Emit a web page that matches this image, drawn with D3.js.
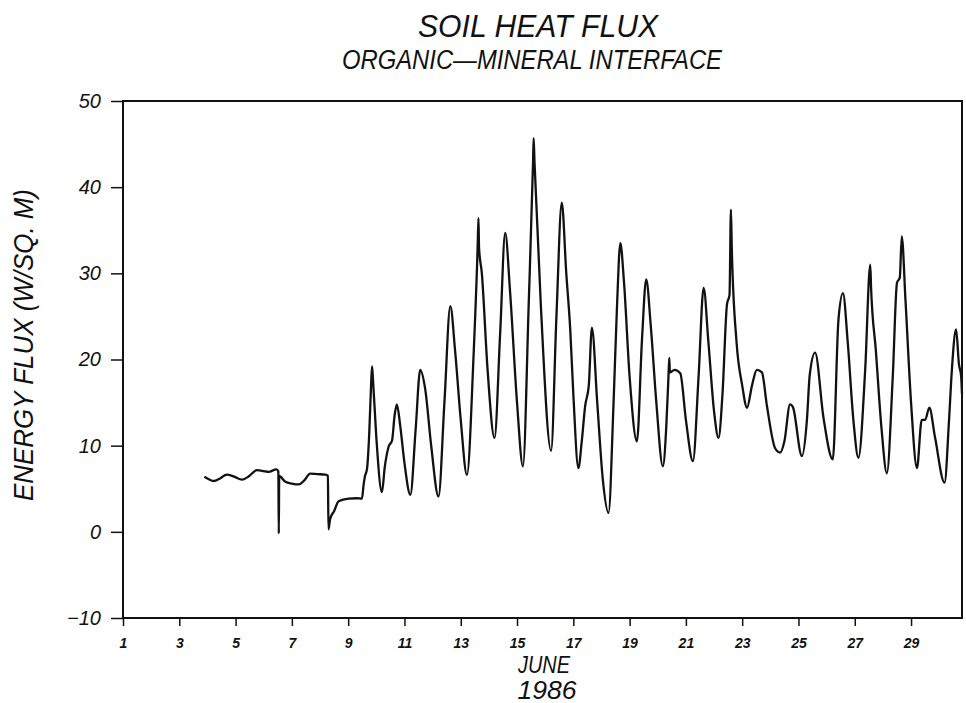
<!DOCTYPE html>
<html>
<head>
<meta charset="utf-8">
<script src="https://cdn.jsdelivr.net/npm/d3@7"></script>
<style>
  body { margin: 0; background: #fff; }
  text { font-family: 'Liberation Sans', 'DejaVu Sans', sans-serif; fill: #111; }
</style>
</head>
<body>
<div id="wrapper"></div>
<script>
// day of June 1986 (fractional) and flux in W/sq. m
const fluxDays = [
    3.89, 4.05, 4.22, 4.45, 4.69, 4.95, 5.23, 5.45, 5.76, 6.0, 6.17, 6.45, 6.52, 6.535, 6.55,
    6.77, 7.0, 7.24, 7.45, 7.65, 7.9, 8.19, 8.28, 8.30, 8.36, 8.50, 8.66, 9.02, 9.30, 9.49,
    9.55, 9.60, 9.67, 9.75, 9.82, 9.85, 9.88, 10.0, 10.20, 10.30, 10.44, 10.56, 10.65, 10.73,
    10.85, 11.0, 11.21, 11.40, 11.56, 11.74, 11.95, 12.21, 12.42, 12.63, 12.80, 13.0, 13.22,
    13.45, 13.60, 13.63, 13.65, 13.75, 13.95, 14.20, 14.40, 14.58, 14.75, 15.0, 15.21, 15.42,
    15.57, 15.59, 15.62, 15.85, 16.21, 16.40, 16.59, 16.75, 16.89, 17.0, 17.18, 17.3, 17.42,
    17.55, 17.66, 17.85, 18.05, 18.25, 18.43, 18.55, 18.67, 18.80, 19.0, 19.26, 19.44, 19.59,
    19.75, 19.95, 20.18, 20.30, 20.38, 20.41, 20.43, 20.60, 20.80, 21.0, 21.25, 21.45, 21.63,
    21.80, 22.0, 22.16, 22.30, 22.46, 22.55, 22.60, 22.63, 22.80, 23.0, 23.17, 23.35, 23.52,
    23.70, 23.88, 24.17, 24.35, 24.50, 24.70, 24.80, 25.12, 25.30, 25.40, 25.59, 25.89, 26.22,
    26.42, 26.58, 26.75, 26.95, 27.13, 27.37, 27.55, 27.58, 27.75, 27.95, 28.14, 28.35, 28.50,
    28.60, 28.67, 28.80, 29.0, 29.21, 29.38, 29.50, 29.65, 29.85, 30.19, 30.35, 30.45, 30.60,
    30.70, 30.78, 30.81
]
const fluxValues = [
    6.4, 6.1, 5.9, 6.2, 6.65, 6.4, 6.05, 6.4, 7.15, 7.05, 6.95, 7.25, 7.0, -0.2, 6.5,
    5.8, 5.6, 5.5, 6.0, 6.75, 6.7, 6.65, 6.5, 0.3, 1.5, 2.4, 3.55, 3.85, 3.9, 3.85,
    5.5, 6.5, 7.3, 11.5, 17.5, 19.2, 17.8, 11.0, 4.6, 7.5, 9.9, 10.6, 13.5, 14.8,
    12.3, 8.0, 4.3, 12.0, 18.8, 16.5, 10.0, 4.1, 15.0, 26.2, 21.0, 13.0, 6.6,
    20.0, 33.0, 36.4, 33.0, 30.0, 19.0, 10.9, 23.0, 34.7, 28.0, 15.0, 7.6, 27.0,
    43.0, 45.7, 43.0, 26.0, 9.4, 25.0, 38.2, 30.0, 23.5, 16.0, 7.4, 10.5, 14.6,
    17.0, 23.7, 15.0, 6.0, 2.2, 15.0, 26.0, 33.5, 29.0, 18.0, 10.5, 22.3, 29.3,
    24.0, 15.0, 7.6, 12.0, 18.0, 20.2, 18.5, 18.8, 18.4, 13.0, 8.2, 18.0, 28.3,
    22.0, 14.0, 10.9, 16.0, 26.4, 27.5, 37.4, 33.0, 22.0, 17.0, 14.4, 17.0, 18.8,
    18.5, 14.6, 9.7, 9.2, 10.5, 14.8, 14.5, 8.8, 13.0, 18.2, 20.8, 13.2, 8.4,
    24.6, 27.7, 22.0, 13.0, 8.6, 18.8, 31.0, 28.3, 21.0, 12.0, 6.8, 18.0, 28.9,
    29.5, 34.3, 27.0, 15.0, 7.4, 13.0, 13.0, 14.4, 11.0, 5.7, 13.0, 18.8, 23.5,
    19.5, 18.0, 16.0
]
const dayTicks = [1, 3, 5, 7, 9, 11, 13, 15, 17, 19, 21, 23, 25, 27, 29]
const fluxTicks = [-10, 0, 10, 20, 30, 40, 50]

const points = fluxDays.map((d, i) => [d, fluxValues[i]])

const width = 966
const height = 703
const plotLeft = 123
const plotRight = 962
const plotTop = 101
const plotBottom = 618

const wrapper = d3.select('#wrapper')
    .append('svg')
        .attr('width', width)
        .attr('height', height)

const xScale = d3.scaleLinear()
    .domain([1, 30.81])
    .range([plotLeft, plotRight])

const yScale = d3.scaleLinear()
    .domain([-10, 50])
    .range([plotBottom, plotTop])

const xAxis = wrapper.append('g')
    .attr('transform', `translate(0,${plotBottom})`)
    .call(d3.axisBottom(xScale)
        .tickValues(dayTicks)
        .tickSize(8)
        .tickPadding(12)
        .tickFormat(d3.format('d')))

xAxis.select('.domain').remove()
xAxis.selectAll('.tick line').attr('stroke', '#111').attr('stroke-width', 1.5)
xAxis.selectAll('.tick text')
    .style('font-size', '14px')
    .style('font-style', 'italic')
    .style('font-weight', 'bold')
    .attr('fill', '#111')

const yAxis = wrapper.append('g')
    .attr('transform', `translate(${plotLeft},0)`)
    .call(d3.axisLeft(yScale)
        .tickValues(fluxTicks)
        .tickSize(12)
        .tickPadding(10)
        .tickFormat(d => d < 0 ? '\u2212' + Math.abs(d) : d))

yAxis.select('.domain').remove()
yAxis.selectAll('.tick line').attr('stroke', '#111').attr('stroke-width', 1.5)
yAxis.selectAll('.tick text')
    .style('font-size', '20px')
    .style('font-style', 'italic')
    .attr('fill', '#111')

// frame
wrapper.append('rect')
    .attr('x', plotLeft)
    .attr('y', plotTop)
    .attr('width', plotRight - plotLeft)
    .attr('height', plotBottom - plotTop)
    .attr('fill', 'none')
    .attr('stroke', '#111')
    .attr('stroke-width', 2)

const line = d3.line()
    .x(d => xScale(d[0]))
    .y(d => yScale(d[1]))
    .curve(d3.curveMonotoneX)

wrapper.append('path')
    .datum(points)
    .attr('d', line)
    .attr('fill', 'none')
    .attr('stroke', '#111')
    .attr('stroke-width', 2.3)
    .attr('stroke-linejoin', 'round')

const addText = (txt, x, y, size, len, rotate) => {
    const t = wrapper.append('text')
        .attr('x', x)
        .attr('y', y)
        .attr('text-anchor', 'middle')
        .attr('textLength', len)
        .attr('lengthAdjust', 'spacingAndGlyphs')
        .style('font-size', size + 'px')
        .style('font-style', 'italic')
        .text(txt)
    if (rotate) t.attr('transform', `rotate(-90,${x},${y})`)
    return t
}

addText('SOIL HEAT FLUX', 538, 37, 32, 240)
addText('ORGANIC\u2014MINERAL INTERFACE', 532, 69, 27, 380)
addText('ENERGY FLUX (W/SQ. M)', 33, 345, 27, 312, true)
addText('JUNE', 544, 673, 24, 52)
addText('1986', 547, 699, 25, 59)
</script>
</body>
</html>
